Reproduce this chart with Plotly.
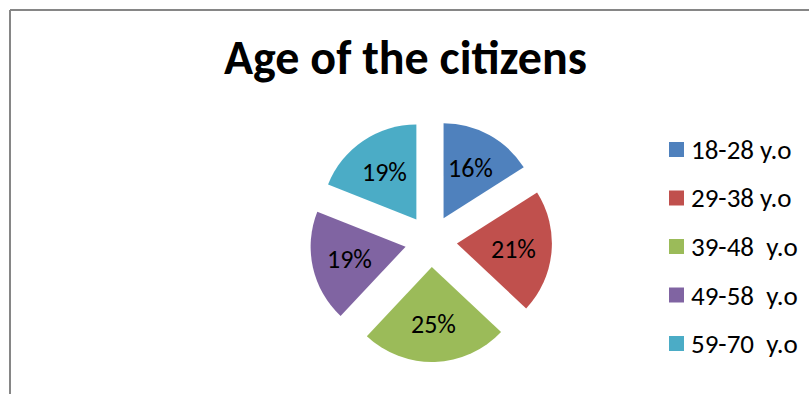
import math
import plotly.graph_objects as go

# Age groups and their share of citizens (percent)
age_groups = ["18-28 y.o", "29-38 y.o", "39-48  y.o", "49-58  y.o", "59-70  y.o"]
shares = [16, 21, 25, 19, 19]
colors = ["#4F81BD", "#C0504D", "#9BBB59", "#8064A2", "#4BACC6"]

title_text = "Age of the citizens"
FONT = "Carlito, 'Liberation Sans Narrow', 'Liberation Sans', sans-serif"

W, H = 809, 394

# Pie placement (pixels) and explosion
PULL = 0.274
dom_x = (310, 552)
dom_y = (120, 362)  # top, bottom in pixels

fig = go.Figure(
    go.Pie(
        labels=age_groups,
        values=shares,
        sort=False,
        direction="clockwise",
        rotation=0,
        pull=[PULL] * len(shares),
        marker=dict(colors=colors, line=dict(width=0)),
        textinfo="none",
        domain=dict(x=[dom_x[0] / W, dom_x[1] / W],
                    y=[1 - dom_y[1] / H, 1 - dom_y[0] / H]),
        showlegend=False,
        hoverinfo="label+percent",
    )
)

shapes = []
annotations = []

# Percentage labels placed inside each exploded slice along its mid-angle
cx = (dom_x[0] + dom_x[1]) / 2
cy = (dom_y[0] + dom_y[1]) / 2
r = min(dom_x[1] - dom_x[0], dom_y[1] - dom_y[0]) / 2 / (1 + PULL)
total = sum(shares)
cum = 0
for v in shares:
    mid = (cum + v / 2) / total * 2 * math.pi
    cum += v
    dist = r * PULL + r * 0.6
    px = cx + dist * math.sin(mid)
    py = cy - dist * math.cos(mid)
    annotations.append(dict(
        text=f"{round(100 * v / total)}%", xref="paper", yref="paper",
        x=px / W, y=1 - py / H, xanchor="center", yanchor="middle",
        showarrow=False, font=dict(family=FONT, size=26, color="#000000"),
    ))

# Legend drawn as colored squares with labels, one row per age group
legend_top = 149.5
legend_step = 48.5
for i, (lab, col) in enumerate(zip(age_groups, colors)):
    yc = legend_top + i * legend_step
    shapes.append(dict(
        type="rect", xref="paper", yref="paper",
        x0=669 / W, x1=684 / W,
        y0=1 - (yc + 7.5) / H, y1=1 - (yc - 7.5) / H,
        fillcolor=col, line=dict(width=0),
    ))
    annotations.append(dict(
        text=lab.replace(" ", "&nbsp;"), xref="paper", yref="paper",
        x=689 / W, y=1 - yc / H, xanchor="left", yanchor="middle",
        showarrow=False, font=dict(family=FONT, size=27, color="#000000"),
    ))

# Title
annotations.append(dict(
    text="<b>" + title_text + "</b>", xref="paper", yref="paper",
    x=405 / W, y=1 - 57 / H, xanchor="center", yanchor="middle",
    showarrow=False, font=dict(family=FONT, size=48, color="#000000"),
))

# Chart frame (top and left edges)
frame = dict(color="#868686", width=2)
shapes.append(dict(type="line", xref="paper", yref="paper",
                   x0=10 / W, x1=1, y0=1 - 10 / H, y1=1 - 10 / H, line=frame))
shapes.append(dict(type="line", xref="paper", yref="paper",
                   x0=10 / W, x1=10 / W, y0=0, y1=1 - 10 / H, line=frame))

fig.update_layout(
    width=W, height=H,
    margin=dict(l=0, r=0, t=0, b=0),
    paper_bgcolor="#FFFFFF",
    plot_bgcolor="#FFFFFF",
    shapes=shapes,
    annotations=annotations,
)

fig.write_html("out.html")
